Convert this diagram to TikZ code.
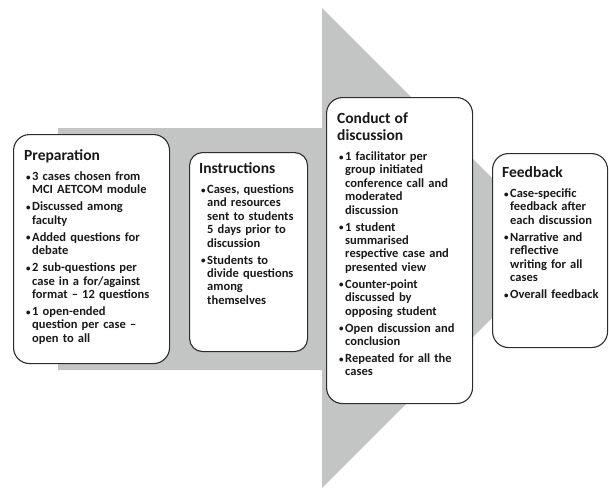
\documentclass[tikz,border=0pt]{standalone}
\usepackage{fontspec}
\setmainfont{Carlito}
\usetikzlibrary{positioning}
\definecolor{arrowgray}{RGB}{195,196,196}
\definecolor{boxline}{RGB}{45,45,45}
\definecolor{inkdark}{RGB}{25,25,25}
\newcommand{\stagehead}[1]{{\noindent\fontsize{15.5}{17}\selectfont #1\par}\vspace{7pt}}
\newcommand{\bitem}[1]{\hangindent=8pt\hangafter=1\noindent\hspace*{2pt}\makebox[6pt][l]{\raisebox{0.4pt}{\fontsize{9}{9}\selectfont\textbullet}}#1\par\vspace{3.6pt}}
\tikzset{
  stagebox/.style={draw=boxline, line width=1.1pt, fill=white, rounded corners=16pt, inner sep=0pt, anchor=north west},
  stagetext/.style={font=\bfseries\fontsize{12.5}{13.4}\selectfont, text=inkdark, inner sep=0pt, anchor=north west, text width=150pt}
}
\begin{document}
\begin{tikzpicture}[x=1pt, y=-1pt]
  \useasboundingbox (0,0) rectangle (609,488);

  % Big arrow
  \fill[arrowgray] (58,128) -- (322,128) -- (322,8) -- (562,248) -- (322,488) -- (322,370) -- (58,370) -- cycle;

  % Boxes
  \node[stagebox, minimum width=156pt, minimum height=229pt] (prep) at (13,134) {};
  \node[stagebox, minimum width=118pt, minimum height=199pt, rounded corners=13pt] (instr) at (189,152) {};
  \node[stagebox, minimum width=146pt, minimum height=306pt] (conduct) at (326,97) {};
  \node[stagebox, minimum width=115pt, minimum height=194pt] (feedback) at (492,153) {};

  % Preparation
  \node[stagetext] (prep-text) at (24,149) {%
    \stagehead{Preparation}
    \bitem{3 cases chosen from\newline MCI AETCOM module}
    \bitem{Discussed among\newline faculty}
    \bitem{Added questions for\newline debate}
    \bitem{2 sub-questions per\newline case in a for/against\newline format – 12 questions}
    \bitem{1 open-ended\newline question per case –\newline open to all}
  };

  % Instructions
  \node[stagetext] (instr-text) at (199,162) {%
    \stagehead{Instructions}
    \bitem{Cases, questions\newline and resources\newline sent to students\newline 5 days prior to\newline discussion}
    \bitem{Students to\newline divide questions\newline among\newline themselves}
  };

  % Conduct of discussion
  \node[stagetext] (conduct-text) at (337,112) {%
    \stagehead{Conduct of\newline discussion}
    \bitem{1 facilitator per\newline group initiated\newline conference call and\newline moderated\newline discussion}
    \bitem{1 student\newline summarised\newline respective case and\newline presented view}
    \bitem{Counter-point\newline discussed by\newline opposing student}
    \bitem{Open discussion and\newline conclusion}
    \bitem{Repeated for all the\newline cases}
  };

  % Feedback
  \node[stagetext] (feedback-text) at (502,166) {%
    \stagehead{Feedback}
    \bitem{Case-specific\newline feedback after\newline each discussion}
    \bitem{Narrative and\newline reflective\newline writing for all\newline cases}
    \bitem{Overall feedback}
  };
\end{tikzpicture}
\end{document}
